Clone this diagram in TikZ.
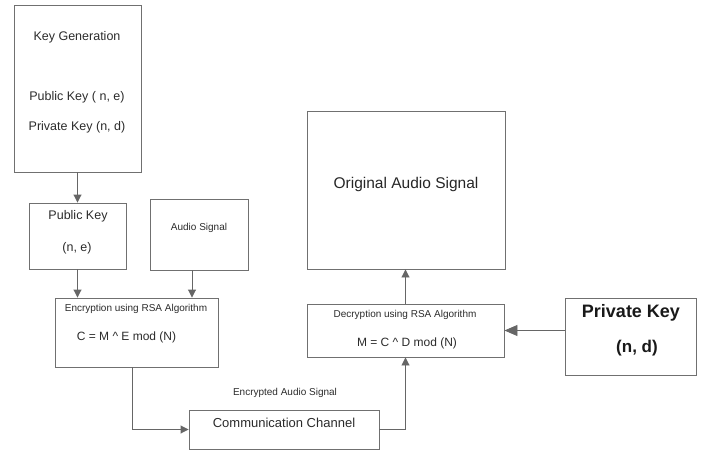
\documentclass[tikz,border=0pt]{standalone}
\usepackage{fontspec}
\setmainfont{Liberation Sans}
\usetikzlibrary{arrows.meta}
\definecolor{linegray}{HTML}{666666}
\definecolor{boxgray}{HTML}{707070}
\definecolor{txt}{HTML}{2B2B2B}
\tikzset{
  blk/.style={draw=boxgray, line width=0.9pt, rectangle, inner sep=0pt},
  lbl/.style={text=txt, inner sep=0pt, anchor=center},
  arr/.style={draw=linegray, line width=0.9pt, -{Triangle[length=8pt,width=8pt]}},
  bigarr/.style={draw=linegray, line width=0.9pt, -{Triangle[length=13pt,width=11pt]}},
  ln/.style={draw=linegray, line width=0.9pt}
}
\begin{document}
\begin{tikzpicture}[x=1pt,y=-1pt]
\useasboundingbox (0,0) rectangle (704,450);
% boxes
\node[blk, minimum width=127pt, minimum height=167pt] (kg) at (77.5,88.5) {};
\node[blk, minimum width=97pt, minimum height=66pt] (pk) at (77.5,236) {};
\node[blk, minimum width=98pt, minimum height=71pt] (audio) at (199,234.5) {};
\node[blk, minimum width=163pt, minimum height=69pt] (enc) at (136.5,332.5) {};
\node[blk, minimum width=198pt, minimum height=158pt] (orig) at (406,190) {};
\node[blk, minimum width=197pt, minimum height=53pt] (dec) at (405.5,330.5) {};
\node[blk, minimum width=131pt, minimum height=77pt] (priv) at (630.5,336.5) {};
\node[blk, minimum width=190pt, minimum height=39pt] (comm) at (284,429.5) {};
% texts
\node[lbl, font=\fontsize{12.5}{14}\selectfont] (t1) at (77,37) {Key Generation};
\node[lbl, font=\fontsize{12.5}{14}\selectfont] (t2) at (77,97) {Public Key ( n, e)};
\node[lbl, font=\fontsize{12.5}{14}\selectfont] (t3) at (77,127) {Private Key (n, d)};
\node[lbl, font=\fontsize{12.5}{14}\selectfont] (t4) at (78,216) {Public Key};
\node[lbl, font=\fontsize{12.5}{14}\selectfont] (t5) at (77,248) {(n, e)};
\node[lbl, font=\fontsize{10}{12}\selectfont] (t6) at (199,228) {Audio Signal};
\node[lbl, font=\fontsize{10}{12}\selectfont] (t7) at (136,309) {Encryption using RSA Algorithm};
\node[lbl, font=\fontsize{12}{14}\selectfont] (t8) at (126.5,337) {C = M \^{} E mod (N)};
\node[lbl, font=\fontsize{15.5}{18}\selectfont, text=black!85] (t9) at (406,184) {Original Audio Signal};
\node[lbl, font=\fontsize{10}{12}\selectfont] (t10) at (405,315) {Decryption using RSA Algorithm};
\node[lbl, font=\fontsize{12}{14}\selectfont] (t11) at (407,343) {M = C \^{} D mod (N)};
\node[lbl, font=\bfseries\fontsize{18}{20}\selectfont, text=black!90] (t12) at (631,313) {Private Key};
\node[lbl, font=\bfseries\fontsize{17}{20}\selectfont, text=black!90] (t13) at (637,348) {(n, d)};
\node[lbl, font=\fontsize{10}{12}\selectfont] (t14) at (285,393) {Encrypted Audio Signal};
\node[lbl, font=\fontsize{13}{15}\selectfont] (t15) at (284,423) {Communication Channel};
% connectors
\draw[arr] (kg.south) -- (pk.north);
\draw[arr] (pk.south) -- (pk.south |- enc.north);
\draw[arr] ([xshift=-7pt]audio.south) -- ([xshift=-7pt]audio.south |- enc.north);
\draw[arr] ([xshift=-4.5pt]enc.south) |- (comm.west);
\draw[arr] (comm.east) -| (dec.south);
\draw[arr] (dec.north) -- (dec.north |- orig.south);
\draw[bigarr] (priv.west |- dec.east) -- (dec.east);
\end{tikzpicture}
\end{document}
